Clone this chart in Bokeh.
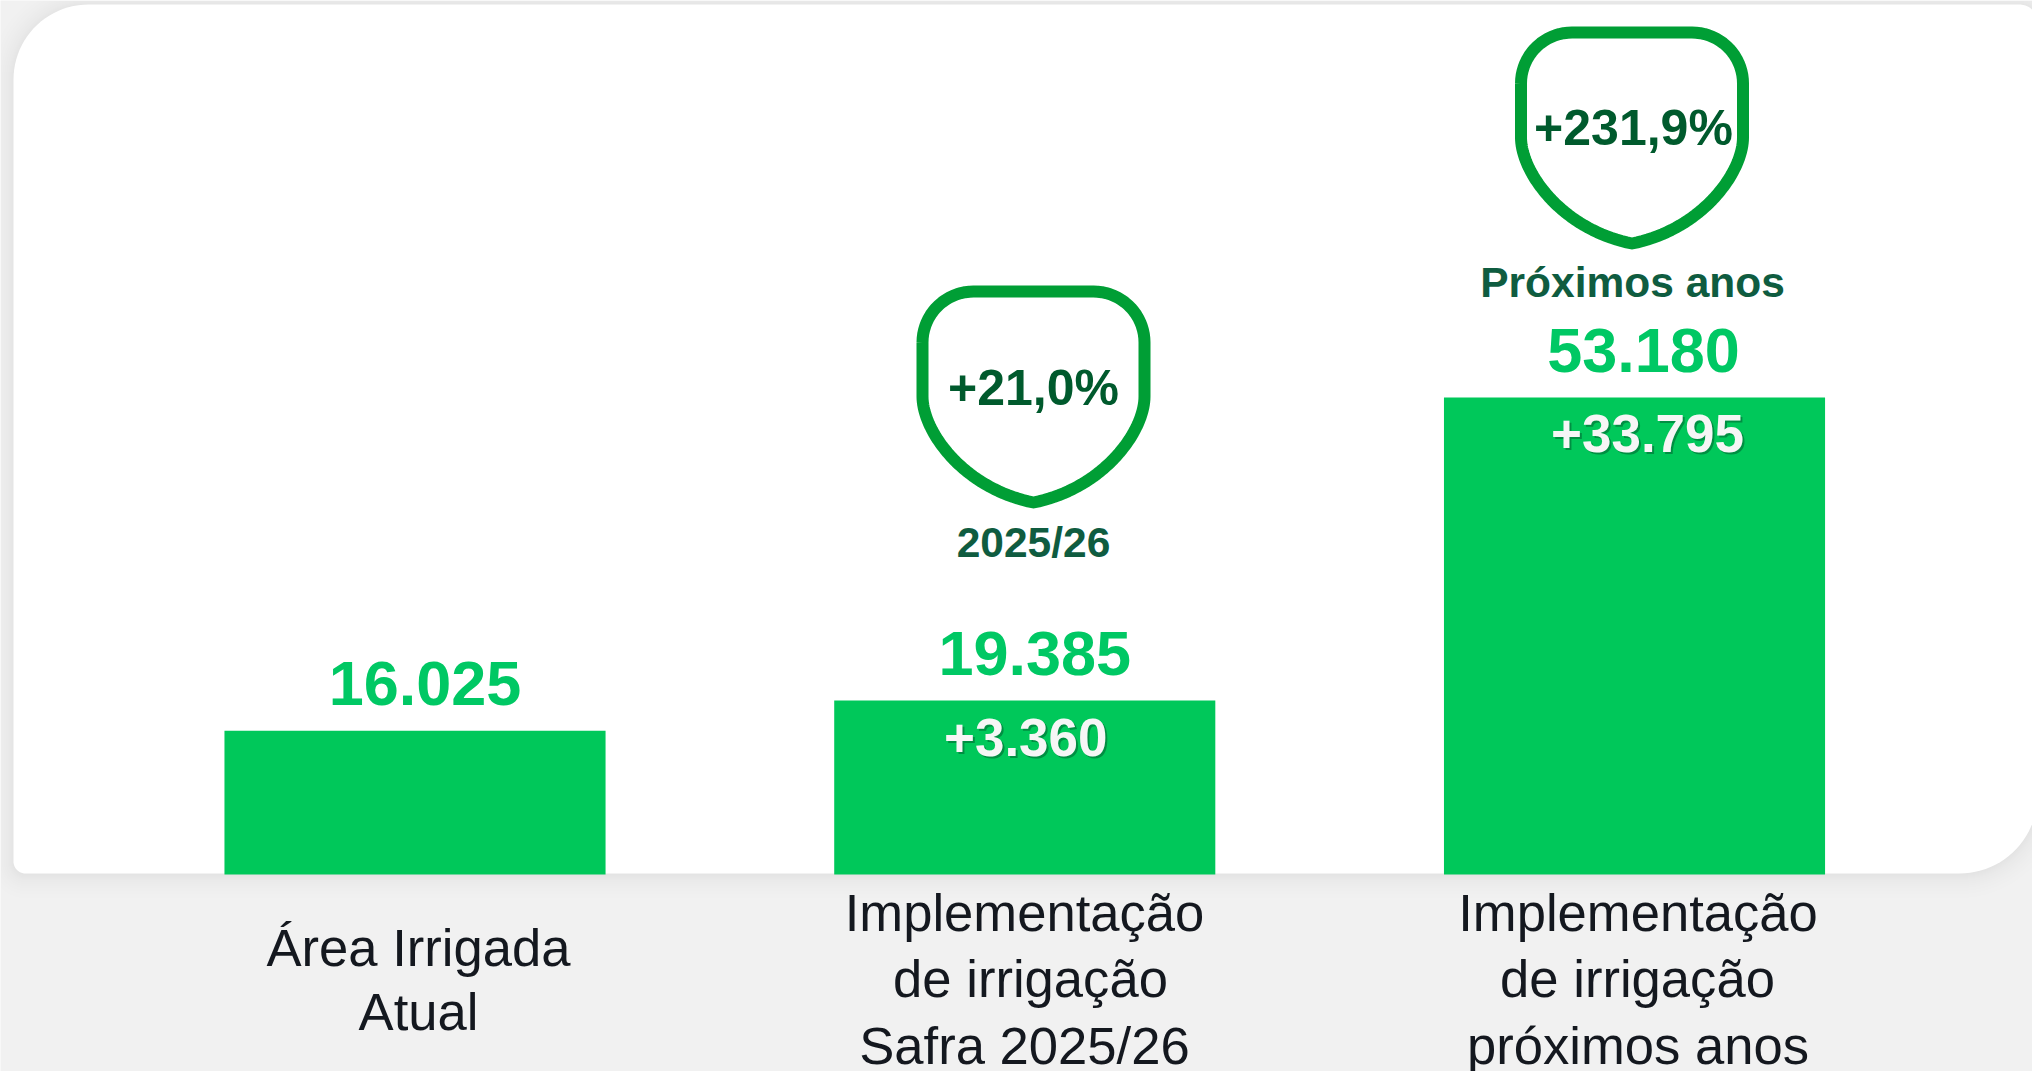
import numpy as np
from bokeh.core.properties import value
from bokeh.embed import file_html
from bokeh.events import DocumentReady
from bokeh.models import CustomJS, Range1d
from bokeh.plotting import figure
from bokeh.resources import INLINE

# ---- data ----
categories = ["Área Irrigada Atual", "Implementação de irrigação Safra 2025/26",
              "Implementação de irrigação próximos anos"]
category_lines = [["Área Irrigada", "Atual"],
                  ["Implementação", "de irrigação", "Safra 2025/26"],
                  ["Implementação", "de irrigação", "próximos anos"]]
totals = [16025, 19385, 53180]
increments = [None, 3360, 33795]
percent_labels = ["+21,0%", "+231,9%"]
period_labels = ["2025/26", "Próximos anos"]

W, H = 2032, 1071
FONT = value("Liberation Sans")
BAR = "#00C85A"


def br(n):
    return f"{n:,}".replace(",", ".")


def lift(size):
    """The page draws alphabetic text about 0.35 em low; this is the correction."""
    return 0.35 * size


p = figure(width=W, height=H, output_backend="svg", toolbar_location=None,
           x_range=Range1d(-0.6798, 2.6527), y_range=Range1d(-21963, 97440),
           min_border=0, outline_line_color=None, background_fill_color="#F1F1F1",
           border_fill_color="#F1F1F1")
p.axis.visible = False
p.grid.visible = False
p.extra_x_ranges["px"] = Range1d(0, W)
p.extra_y_ranges["px"] = Range1d(H, 0)
PX = dict(x_range_name="px", y_range_name="px")


def rounded(x0, y0, x1, y1, tl, tr, br_, bl):
    """Closed outline of a rectangle with four separate corner radii."""
    out = []
    for cx, cy, r, a0 in ((x0 + tl, y0 + tl, tl, 180), (x1 - tr, y0 + tr, tr, 270),
                          (x1 - br_, y1 - br_, br_, 0), (x0 + bl, y1 - bl, bl, 90)):
        t = np.radians(np.linspace(a0, a0 + 90, 24))
        out.append(np.c_[cx + r * np.cos(t), cy + r * np.sin(t)])
    return np.vstack(out)


# card with soft shadow: each layer darkens the 8-bit background by one level
CARD = (13, 4, 2037, 873)
for k in (24, 20, 17, 14, 12, 10, 8, 6, 5, 4, 3, 2, 1):
    o = rounded(CARD[0] - k, CARD[1] - k + 1, CARD[2] + k, CARD[3] + k + 1,
                75 + k, 18 + k, 78 + k, 12 + k)
    p.patch(o[:, 0], o[:, 1], fill_color="#000000", fill_alpha=0.003, line_color=None, **PX)
o = rounded(*CARD, 75, 18, 78, 12)
p.patch(o[:, 0], o[:, 1], fill_color="#FFFFFF", line_color=None, **PX)

# bars
idx = list(range(len(totals)))
p.vbar(x=idx, top=totals, bottom=0, width=0.625, fill_color=BAR, line_color=None)

# totals above the bars
p.text(x=idx, y=totals, text=[br(v) for v in totals], x_offset=[10, 10, 9], y_offset=-25 - lift(63),
       text_align="center", text_baseline="alphabetic", text_color="#00C864",
       text_font=FONT, text_font_style="bold", text_font_size="63px")

# increments inside the bars, with their drop shadow
inc_x = [i for i, v in enumerate(increments) if v is not None]
inc_top = [totals[i] for i in inc_x]
inc_txt = ["+" + br(increments[i]) for i in inc_x]
inc_off = [1, 13]
p.text(x=inc_x, y=inc_top, text=inc_txt, x_offset=[o + 2 for o in inc_off], y_offset=57 - lift(53),
       text_align="center", text_baseline="alphabetic", text_color="#006030", text_alpha=0.55,
       text_font=FONT, text_font_style="bold", text_font_size="53px")
p.text(x=inc_x, y=inc_top, text=inc_txt, x_offset=inc_off, y_offset=55 - lift(53),
       text_align="center", text_baseline="alphabetic", text_color="#F6F6F6",
       text_font=FONT, text_font_style="bold", text_font_size="53px")


# shields
def shield(cx, top):
    t = top + 6
    hw = 111
    r = 51
    a1 = np.radians(np.linspace(180, 270, 20))
    a2 = np.radians(np.linspace(270, 360, 20))
    left = np.c_[cx - hw + r + r * np.cos(a1), t + r + r * np.sin(a1)]
    right = np.c_[cx + hw - r + r * np.cos(a2), t + r + r * np.sin(a2)]
    s = np.linspace(0, 1, 40)[:, None]
    b0 = np.array([cx + hw, t + 105.0])
    b1 = np.array([cx + hw, t + 140.0])
    b2 = np.array([cx + 70, t + 197.0])
    b3 = np.array([cx, t + 211.0])
    lower_r = (1 - s) ** 3 * b0 + 3 * (1 - s) ** 2 * s * b1 + 3 * (1 - s) * s ** 2 * b2 + s ** 3 * b3
    lower_l = lower_r[::-1].copy()
    lower_l[:, 0] = 2 * cx - lower_l[:, 0]
    return np.vstack([left, right, lower_r, lower_l, left[:1]])


for cx, top in ((1033, 285), (1631.5, 26)):
    o = shield(cx, top)
    p.line(o[:, 0], o[:, 1], line_color="#009E35", line_width=12, line_join="round", **PX)

p.text(x=[1033, 1633], y=[405, 145], text=percent_labels, y_offset=-lift(50), text_align="center",
       text_baseline="alphabetic", text_color="#005A2D", text_font=FONT,
       text_font_style="bold", text_font_size="50px", **PX)
p.text(x=[1033, 1632], y=[557, 297], text=period_labels, y_offset=-lift(42.5), text_align="center",
       text_baseline="alphabetic", text_color="#0F5C40", text_font=FONT,
       text_font_style="bold", text_font_size="42.5px", **PX)

# category labels
line_x = [[418, 418], [1024, 1030, 1024], [1637.5, 1637, 1637.5]]
line_y = [[965, 1029], [930, 996.5, 1063], [930, 996.5, 1063]]
xs, ys, txt = [], [], []
for lines, lx, ly in zip(category_lines, line_x, line_y):
    xs += lx
    ys += ly
    txt += lines
p.text(x=xs, y=ys, text=txt, y_offset=-lift(52.6), text_align="center", text_baseline="alphabetic",
       text_color="#14181F", text_font=FONT, text_font_size="52.6px", **PX)

p.js_on_event(DocumentReady, CustomJS(code="""
document.body.style.margin='0';
document.body.style.background='#F1F1F1';
document.documentElement.style.overflow='hidden';
"""))

open("out.html", "w").write(file_html(p, INLINE))
